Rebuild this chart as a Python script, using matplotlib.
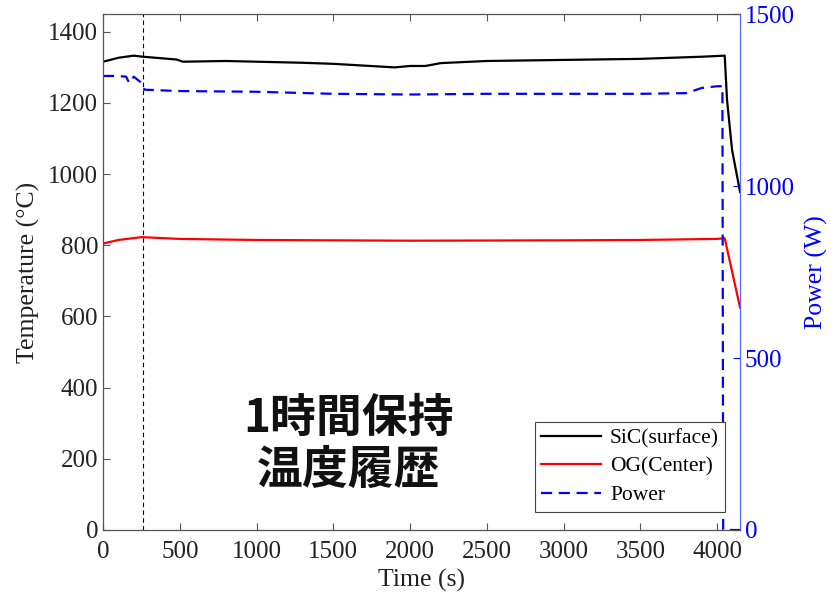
import numpy as np
import matplotlib
matplotlib.use("Agg")
import matplotlib.pyplot as plt

plt.rcParams['font.family'] = ['Liberation Serif', 'Noto Sans CJK JP']

# ==========================================
# Data
# ==========================================
sic_time = [0, 100, 200, 260, 400, 480, 520, 800, 1000, 1300, 1500, 1700, 1900,
            2000, 2100, 2200, 2500, 3000, 3500, 3900, 4050, 4065, 4098, 4150]
sic_temp = [1316, 1327, 1333, 1330, 1325, 1322, 1316, 1318, 1316, 1313, 1310,
            1305, 1300, 1304, 1304, 1312, 1318, 1321, 1324, 1330, 1333, 1209,
            1068, 950]

og_time = [0, 100, 250, 500, 1000, 2000, 3000, 3500, 4000, 4050, 4150]
og_temp = [805, 815, 823, 818, 815, 813, 814, 815, 818, 820, 625]

power_time = [0, 80, 150, 170, 200, 250, 270, 500, 1000, 1500, 2000, 2500,
              3000, 3500, 3800, 3900, 4000, 4035, 4040, 4150]
power_w = [1320, 1320, 1318, 1300, 1318, 1300, 1280, 1276, 1274, 1268, 1266,
           1268, 1268, 1268, 1270, 1285, 1290, 1290, 0, 0]

hold_start = 260

fig = plt.figure(figsize=(8.35, 5.99), dpi=100)
ax = fig.add_axes([0.1234, 0.1152, 0.7629, 0.8614])
ax2 = ax.twinx()

l1, = ax.plot(sic_time, sic_temp, color='black', linewidth=1.6, label='SiC(surface)')
l2, = ax.plot(og_time, og_temp, color='red', linewidth=1.6, label='OG(Center)')
ax.axvline(hold_start, color='black', linestyle=(0, (4, 3)), linewidth=0.8)
l3, = ax2.plot(power_time, power_w, color='blue', linestyle=(0, (5, 3)),
               linewidth=1.6, label='Power')

ax.set_xlim(0, 4150)
ax.set_ylim(0, 1450)
ax2.set_ylim(0, 1500)
ax.set_xticks(np.arange(0, 4001, 500))
ax.set_yticks(np.arange(0, 1401, 200))
ax2.set_yticks([0, 500, 1000, 1500])

ax.tick_params(axis='both', direction='in', labelsize=18, top=True, right=False,
               length=5, color='#555555', labelcolor='#222222')
ax.tick_params(axis='x', pad=8)
ax2.tick_params(axis='y', direction='in', labelsize=18, colors='blue', length=5)

ax.set_xlabel('Time (s)', fontsize=18.5, labelpad=4, color='#222222')
ax.set_ylabel('Temperature (°C)', fontsize=18.5, labelpad=6, color='#222222')
ax2.set_ylabel('Power (W)', fontsize=18.5, color='blue', labelpad=7)

for name in ['left', 'top', 'bottom']:
    ax2.spines[name].set_color('#555555')
ax2.spines['right'].set_color('#5a6bff')
for s in ax2.spines.values():
    s.set_linewidth(0.8)

ax.text(0.385, 0.165, '1時間保持\n温度履歴', transform=ax.transAxes,
        family=['Noto Sans CJK JP'], fontsize=33, fontweight='bold',
        ha='center', va='center', linespacing=1.15, color='#111111')

leg = ax2.legend(handles=[l1, l2, l3], loc='lower right', fontsize=15.5,
                 bbox_to_anchor=(0.977, 0.035), fancybox=False, framealpha=1,
                 edgecolor='#444444', handlelength=2.8, handletextpad=0.4,
                 borderpad=0.3, labelspacing=0.4, borderaxespad=0)
leg.get_frame().set_linewidth(0.8)

fig.savefig('out.png', dpi=100)
